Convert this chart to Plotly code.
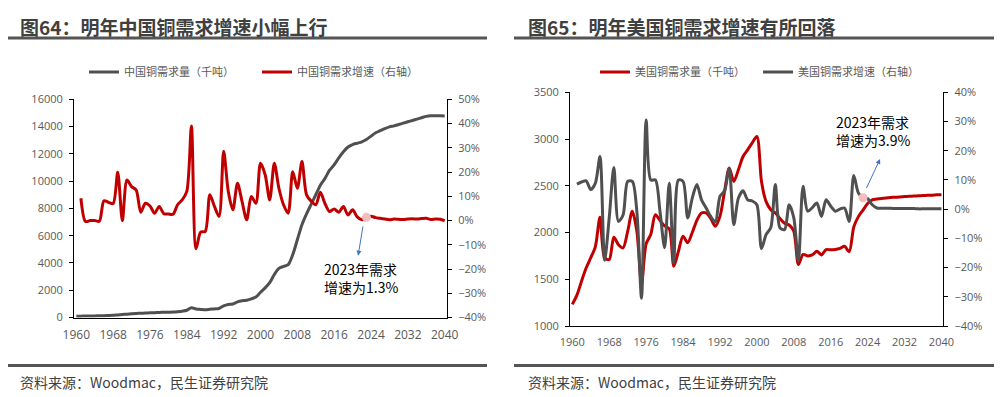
import plotly.graph_objects as go

years = list(range(1960, 2041))
growth_years = list(range(1961, 2041))

# China copper demand (kt), 1960-2040
cn_demand = [100, 100, 105, 110, 115, 125, 135, 145, 160, 190,
             215, 245, 275, 300, 310, 330, 340, 350, 370, 380,
             390, 400, 425, 465, 530, 720, 620, 590, 565, 600,
             630, 660, 850, 950, 990, 1150, 1230, 1260, 1370, 1500,
             1850, 2170, 2550, 3150, 3600, 3750, 3870, 4600, 5700, 6800,
             7600, 8300, 9000, 9700, 10200, 10800, 11200, 11700, 12150, 12500,
             12680, 12780, 12880, 13050, 13300, 13550, 13700, 13850, 13980, 14050,
             14150, 14250, 14350, 14450, 14550, 14650, 14750, 14790, 14800, 14800,
             14780]
# China copper demand growth (%), 1961-2040
cn_growth = [9.2, -0.4, 0.0, 0.0, -0.3, 8.1, 7.5, 7.0, 19.9, -0.1,
             16.7, 14.0, 12.6, 3.4, 7.1, 6.0, 3.0, 5.8, 2.8, 2.7,
             2.6, 6.5, 8.5, 12.0, 39.0, -11.6, -4.8, -4.5, 10.6, 5.8,
             1.7, 28.6, 12.0, 4.4, 15.4, 7.8, 0.3, 9.9, 7.1, 23.6,
             19.0, 8.5, 23.6, 13.3, 6.5, 3.0, 20.1, 13.3, 24.3, 10.6,
             8.0, 6.5, 11.7, 7.0, 3.7, 4.8, 3.4, 5.8, 2.3, 4.4,
             1.5, 0.3, 1.3, 1.8, 1.2, 0.9, 0.6, 0.3, 0.6, 0.5,
             0.4, 0.6, 0.7, 0.6, 0.8, 0.9, 0.4, 0.6, 0.5, -0.1]

# US copper demand (kt), 1960-2040
us_demand = [1231, 1330, 1480, 1620, 1730, 1850, 2163, 1730, 1711, 1950,
             1870, 1836, 2013, 2227, 2010, 1445, 1879, 1978, 2191, 2130,
             2070, 2040, 1640, 1800, 1960, 1890, 2000, 2130, 2209, 2209,
             2150, 2067, 2173, 2440, 2690, 2547, 2671, 2813, 2885, 2960,
             3027, 2547, 2330, 2245, 2210, 2150, 2100, 2080, 2013, 1658,
             1765, 1750, 1760, 1800, 1760, 1818, 1815, 1818, 1830, 1853,
             1793, 2060, 2170, 2240, 2310, 2350, 2358, 2365, 2370, 2374,
             2378, 2381, 2384, 2387, 2390, 2393, 2396, 2398, 2400, 2403,
             2405]
# US copper demand growth (%), 1961-2040
us_growth = [8.6, 9.3, 9.7, 6.7, 8.9, 18.0, -17.5, -3.0, 14.3, -4.2,
             -2.0, 9.5, 9.5, -1.0, -30.5, 30.5, 10.0, 10.0, -0.7, -13.2,
             8.9, -18.4, 10.0, 9.5, -3.0, 3.8, 8.4, 3.2, 0.4, -2.5,
             -4.4, 4.4, 6.3, 14.0, -5.3, 3.8, 6.3, 3.2, 2.8, 1.5,
             -13.5, -8.7, -6.4, 8.4, -6.4, -7.0, 1.5, -3.0, -17.8, 7.8,
             -0.7, 0.5, 2.1, -2.5, 3.2, 1.0, -0.7, 0.0, 0.4, -4.2,
             11.5, 5.5, 3.9, 3.6, 1.5, 0.4, 0.3, 0.3, 0.3, 0.2,
             0.2, 0.2, 0.2, 0.2, 0.1, 0.1, 0.1, 0.1, 0.1, 0.1]

x_ticks = list(range(1960, 2041, 8))
highlight_year = 2023

RED = "#C00000"
GRAY = "#505050"
TXT = "#595959"
W, H = 1007, 397
OX, OY = 8, 8  # page body margin offset
CJK = "Noto Sans CJK SC"
NUM = "Open Sans"

def px(x):
    return (x - OX) / W

def py(y):
    return 1 - (y - OY) / H

fig = go.Figure()

# Left chart
fig.add_trace(go.Scatter(x=years, y=cn_demand, name="中国铜需求量（千吨）", mode="lines",
                         line=dict(color=GRAY, width=3, shape="spline", smoothing=0.8),
                         xaxis="x", yaxis="y", legend="legend"))
fig.add_trace(go.Scatter(x=growth_years, y=[v / 100 for v in cn_growth], name="中国铜需求增速（右轴）",
                         mode="lines", line=dict(color=RED, width=3, shape="spline", smoothing=0.8),
                         xaxis="x", yaxis="y2", legend="legend"))
i = growth_years.index(highlight_year)
fig.add_trace(go.Scatter(x=[highlight_year], y=[cn_growth[i] / 100], mode="markers",
                         marker=dict(color="#F4BDBD", size=9), showlegend=False,
                         xaxis="x", yaxis="y2"))

# Right chart
fig.add_trace(go.Scatter(x=years, y=us_demand, name="美国铜需求量（千吨）", mode="lines",
                         line=dict(color=RED, width=3, shape="spline", smoothing=0.8),
                         xaxis="x2", yaxis="y3", legend="legend2"))
fig.add_trace(go.Scatter(x=growth_years, y=[v / 100 for v in us_growth], name="美国铜需求增速（右轴）",
                         mode="lines", line=dict(color=GRAY, width=3, shape="spline", smoothing=0.8),
                         xaxis="x2", yaxis="y4", legend="legend2"))
j = growth_years.index(highlight_year)
fig.add_trace(go.Scatter(x=[highlight_year], y=[us_growth[j] / 100], mode="markers",
                         marker=dict(color="#F4BDBD", size=9), showlegend=False,
                         xaxis="x2", yaxis="y4"))

axis_common = dict(showgrid=False, zeroline=False, showline=True, linecolor="#000000",
                   linewidth=1, automargin=False)
ytick = dict(ticks="outside", ticklen=4, tickcolor="#000000", ticklabelstandoff=4,
             tickfont=dict(family=NUM, size=11, color=TXT))

fig.update_layout(
    width=W, height=H, margin=dict(l=0, r=0, t=0, b=0, pad=0, autoexpand=False),
    paper_bgcolor="white", plot_bgcolor="white",
    font=dict(family=CJK, color=TXT),
    xaxis=dict(domain=[px(74), px(447)], range=[1959.5, 2040.5], tickvals=x_ticks, ticks="",
               ticklabelstandoff=6,
               tickfont=dict(family=NUM, size=12, color=TXT), anchor="y", **axis_common),
    yaxis=dict(domain=[py(317.5), py(99.3)], range=[0, 16000], dtick=2000, anchor="x",
               tickformat="d", **ytick, **axis_common),
    yaxis2=dict(overlaying="y", side="right", anchor="x", range=[-0.4, 0.5], dtick=0.1,
                tickformat=".0%", **ytick, **axis_common),
    xaxis2=dict(domain=[px(570), px(943.3)], range=[1959.5, 2040.4], tickvals=x_ticks, ticks="",
                ticklabelstandoff=6,
                tickfont=dict(family=NUM, size=11, color=TXT), anchor="y3", **axis_common),
    yaxis3=dict(domain=[py(326), py(92.3)], range=[1000, 3500], dtick=500, anchor="x2",
                tickformat="d", **ytick, **axis_common),
    yaxis4=dict(overlaying="y3", side="right", anchor="x2", range=[-0.4, 0.4], dtick=0.1,
                tickformat=".0%", **ytick, **axis_common),
    legend=dict(orientation="h", x=px(84), y=py(72), xanchor="left", yanchor="middle",
                entrywidth=128, entrywidthmode="pixels", bgcolor="rgba(0,0,0,0)",
                font=dict(family=CJK, size=11, color=TXT), itemwidth=30),
    legend2=dict(orientation="h", x=px(595), y=py(72), xanchor="left", yanchor="middle",
                 entrywidth=118, entrywidthmode="pixels", bgcolor="rgba(0,0,0,0)",
                 font=dict(family=CJK, size=11, color=TXT), itemwidth=30),
    showlegend=True,
)

shapes = []
for x0, x1 in [(7, 487), (514, 994)]:
    shapes.append(dict(type="line", xref="paper", yref="paper", x0=px(x0), x1=px(x1),
                       y0=py(38), y1=py(38), line=dict(color="#555555", width=3)))
    shapes.append(dict(type="line", xref="paper", yref="paper", x0=px(x0), x1=px(x1),
                       y0=py(365.5), y1=py(365.5), line=dict(color="#555555", width=3)))
fig.update_layout(shapes=shapes)

ann = []
for x0, t in [(18, "图64：明年中国铜需求增速小幅上行"), (526, "图65：明年美国铜需求增速有所回落")]:
    ann.append(dict(text="<b>" + t + "</b>", xref="paper", yref="paper", x=px(x0), y=py(27),
                    xanchor="left", yanchor="middle", showarrow=False,
                    font=dict(family=CJK, size=19, color="#404040")))
for x0 in [18, 526]:
    ann.append(dict(text="资料来源：Woodmac，民生证券研究院", xref="paper", yref="paper",
                    x=px(x0), y=py(382), xanchor="left", yanchor="middle", showarrow=False,
                    font=dict(family=CJK, size=14, color="#404040")))
ann.append(dict(text="2023年需求<br>增速为1.3%", xref="paper", yref="paper", x=px(361), y=py(278),
                xanchor="center", yanchor="middle", showarrow=False, align="left",
                font=dict(family=CJK, size=14, color="#000000")))
ann.append(dict(text="2023年需求<br>增速为3.9%", xref="paper", yref="paper", x=px(873), y=py(131),
                xanchor="center", yanchor="middle", showarrow=False, align="left",
                font=dict(family=CJK, size=14, color="#000000")))
# arrows
ann.append(dict(text="", x=2021.2, y=-0.145, xref="x", yref="y2", ax=2022.3, ay=-0.018,
                axref="x", ayref="y2", showarrow=True, arrowhead=2, arrowsize=1, arrowwidth=1,
                arrowcolor="#4472C4"))
ann.append(dict(text="", x=2026.7, y=0.172, xref="x2", yref="y4", ax=2023.6, ay=0.067,
                axref="x2", ayref="y4", showarrow=True, arrowhead=2, arrowsize=1, arrowwidth=1,
                arrowcolor="#4472C4"))
fig.update_layout(annotations=ann)

fig.write_html("out.html")
